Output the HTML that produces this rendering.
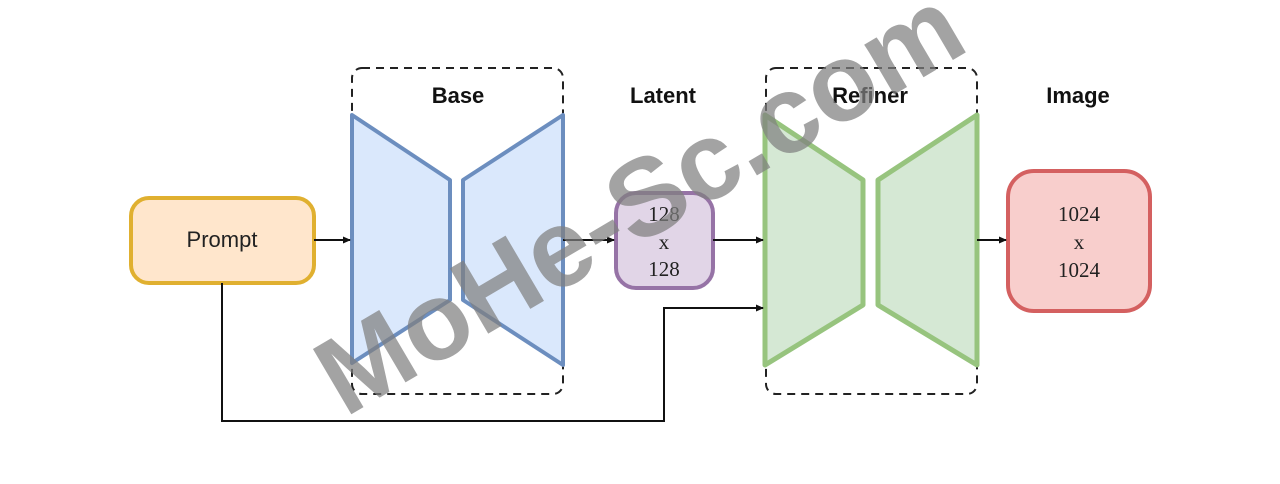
<!DOCTYPE html>
<html><head><style>
html,body{margin:0;padding:0;background:#fff;}
svg{display:block;}
</style></head><body>
<svg width="1280" height="484" viewBox="0 0 1280 484" xmlns="http://www.w3.org/2000/svg">
<defs><marker id="a" markerWidth="8" markerHeight="8" refX="7" refY="4" orient="auto" markerUnits="userSpaceOnUse"><path d="M0,0.5 L8,4 L0,7.5 z" fill="#111"/></marker></defs>
<rect width="1280" height="484" fill="#fff"/>
<rect x="352" y="68" width="211" height="326" rx="10" fill="none" stroke="#222" stroke-width="2" stroke-dasharray="8,6"/>
<rect x="766" y="68" width="211" height="326" rx="10" fill="none" stroke="#222" stroke-width="2" stroke-dasharray="8,6"/>
<g font-family="Liberation Sans, sans-serif" font-weight="bold" font-size="22" fill="#111" text-anchor="middle">
<text x="458" y="103">Base</text><text x="663" y="103">Latent</text><text x="870" y="103">Refiner</text><text x="1078" y="103">Image</text>
</g>
<polygon points="352,115 450,180 450,300 352,363" fill="#dae8fc" stroke="#6c8ebf" stroke-width="4" stroke-linejoin="round"/>
<polygon points="463,180 563,115 563,365 463,300" fill="#dae8fc" stroke="#6c8ebf" stroke-width="4" stroke-linejoin="round"/>
<polygon points="765,115 863,180 863,305 765,365" fill="#d5e8d4" stroke="#97c47e" stroke-width="5" stroke-linejoin="round"/>
<polygon points="878,180 977,115 977,365 878,305" fill="#d5e8d4" stroke="#97c47e" stroke-width="5" stroke-linejoin="round"/>
<rect x="131" y="198" width="183" height="85" rx="18" fill="#ffe6cc" stroke="#e0b030" stroke-width="4"/>
<text x="222" y="247" font-family="Liberation Sans, sans-serif" font-size="22" text-anchor="middle" fill="#222">Prompt</text>
<rect x="616" y="193" width="97" height="95" rx="20" fill="#e1d5e7" stroke="#9673a6" stroke-width="4"/>
<g font-family="Liberation Serif, serif" font-size="21" text-anchor="middle" fill="#222">
<text x="664" y="221">128</text><text x="664" y="249">x</text><text x="664" y="276">128</text></g>
<rect x="1008" y="171" width="142" height="140" rx="26" fill="#f8cecc" stroke="#d46060" stroke-width="4"/>
<g font-family="Liberation Serif, serif" font-size="21" text-anchor="middle" fill="#222">
<text x="1079" y="221">1024</text><text x="1079" y="249">x</text><text x="1079" y="277">1024</text></g>
<g stroke="#111" stroke-width="2" fill="none">
<line x1="314" y1="240" x2="350" y2="240" marker-end="url(#a)"/>
<line x1="563" y1="240" x2="614" y2="240" marker-end="url(#a)"/>
<line x1="713" y1="240" x2="763" y2="240" marker-end="url(#a)"/>
<line x1="977" y1="240" x2="1006" y2="240" marker-end="url(#a)"/>
<polyline points="222,283 222,421 664,421 664,308 763,308" marker-end="url(#a)"/>
</g>
<text x="0" y="0" transform="translate(345,418) rotate(-30.5)" font-family="Liberation Sans, sans-serif" font-weight="bold" font-size="110" fill="#808080" fill-opacity="0.72">MoHe-Sc.com</text>
</svg>
</body></html>
